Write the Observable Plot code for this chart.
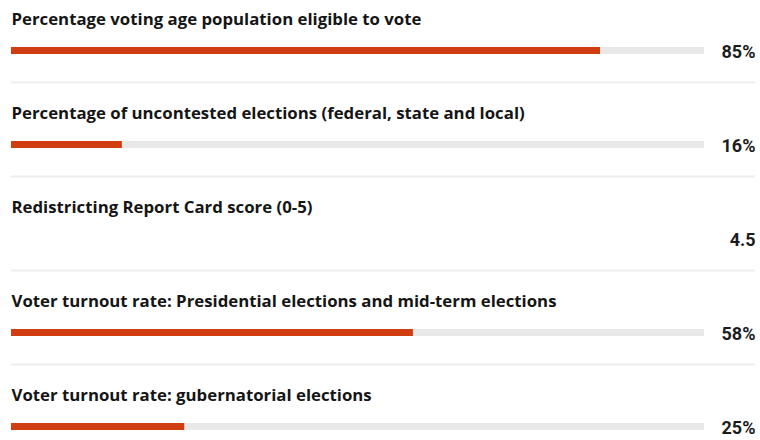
<!DOCTYPE html>
<html>
<head>
<meta charset="utf-8">
<script src="https://cdn.jsdelivr.net/npm/d3@7"></script>
<script src="https://cdn.jsdelivr.net/npm/@observablehq/plot@0.6"></script>
<style>
  html, body { margin: 0; padding: 0; background: #fff; }
  #chart svg { display: block; }
</style>
</head>
<body>
<div id="chart"></div>
<script>
const labels = [
  "Percentage voting age population eligible to vote",
  "Percentage of uncontested elections (federal, state and local)",
  "Redistricting Report Card score (0-5)",
  "Voter turnout rate: Presidential elections and mid-term elections",
  "Voter turnout rate: gubernatorial elections"
];
const values = [85, 16, 4.5, 58, 25];
const units = ["%", "%", "", "%", "%"];
const hasBar = [true, true, false, true, true];

const rows = labels.map((label, i) => ({
  label, value: values[i], unit: units[i], bar: hasBar[i], idx: i
}));
const barRows = rows.filter(d => d.bar);
const sepRows = rows.slice(0, rows.length - 1);

const chart = Plot.plot({
  width: 760,
  height: 440,
  marginLeft: 11,
  marginRight: 5,
  marginTop: 0,
  marginBottom: 0,
  x: { domain: [0, 100], range: [11, 704], axis: null },
  y: { type: "point", domain: labels, range: [49, 427], padding: 0, axis: null },
  marks: [
    Plot.ruleY(sepRows, { y: "label", dy: 32, stroke: "#eeeeee", strokeWidth: 2 }),
    Plot.ruleY(barRows, { y: "label", x1: 0, x2: 100, stroke: "#e8e8e8", strokeWidth: 7 }),
    Plot.ruleY(barRows, { y: "label", x1: 0, x2: "value", stroke: "#cf3d10", strokeWidth: 7 }),
    Plot.text(rows, {
      x: 0, y: "label", text: "label", dy: -31, textAnchor: "start",
      fontFamily: "Open Sans", fontWeight: 700, fontSize: 16.8, fill: "#151515"
    }),
    Plot.text(rows, {
      x: 100, y: "label", text: d => d.value + d.unit, dx: 51, dy: 2, textAnchor: "end",
      fontFamily: "Roboto", fontWeight: 700, fontSize: 18, fill: "#1c1c1c"
    })
  ]
});
document.getElementById("chart").appendChild(chart);
</script>
</body>
</html>
